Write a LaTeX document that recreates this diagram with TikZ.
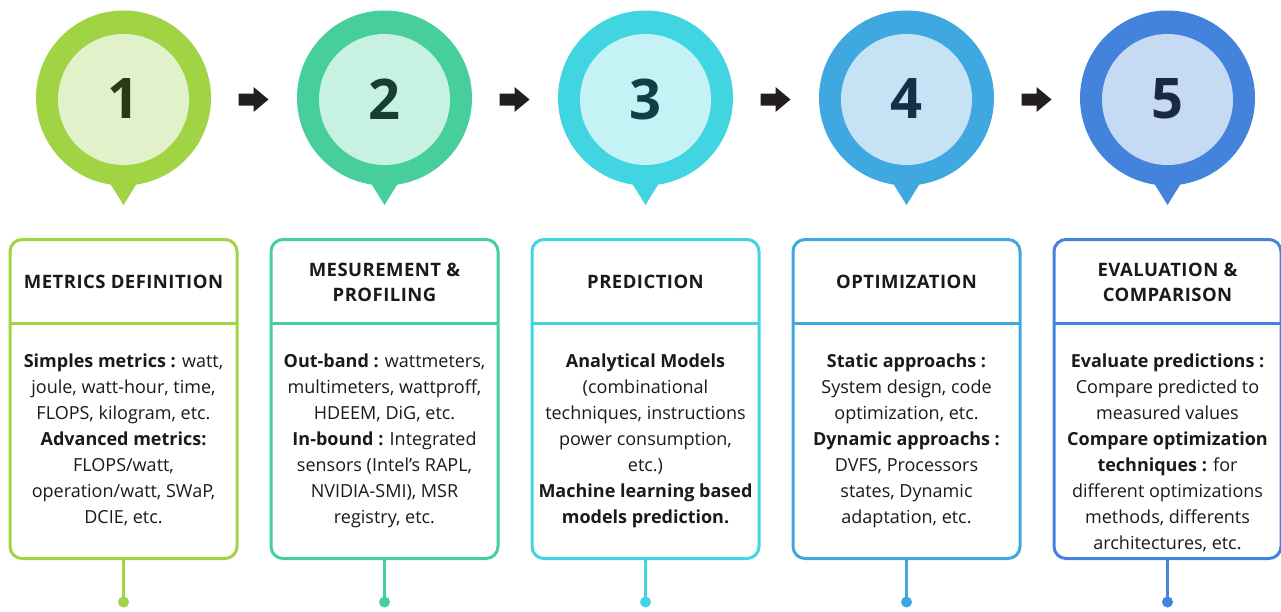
\documentclass[tikz,border=0pt]{standalone}
\usepackage{fontspec}
\setmainfont{Open Sans}
\newfontfamily\headfont[LetterSpace=2.5]{Open Sans}
\definecolor{c1o}{HTML}{A0D444}
\definecolor{c1i}{HTML}{E1F1C9}
\definecolor{c1n}{HTML}{2B3A12}
\definecolor{c2o}{HTML}{46CF9D}
\definecolor{c2i}{HTML}{C7F1E0}
\definecolor{c2n}{HTML}{163F2F}
\definecolor{c3o}{HTML}{41D5E2}
\definecolor{c3i}{HTML}{C5F2F5}
\definecolor{c3n}{HTML}{123F46}
\definecolor{c4o}{HTML}{40A8E0}
\definecolor{c4i}{HTML}{C6E3F6}
\definecolor{c4n}{HTML}{142F47}
\definecolor{c5o}{HTML}{4383DC}
\definecolor{c5i}{HTML}{C7DAF3}
\definecolor{c5n}{HTML}{172943}
\definecolor{txt}{HTML}{1A1A1A}
\definecolor{arr}{HTML}{231F20}
\tikzset{
  numstyle/.style={inner sep=0, font=\fontsize{56}{56}\selectfont\bfseries},
  cardbox/.style={rectangle, rounded corners=12pt, line width=3pt, outer sep=0pt, minimum width=227pt, minimum height=319pt, inner sep=0pt},
  headstyle/.style={align=center, inner sep=0, text=txt, font=\headfont\fontsize{18.5}{25}\selectfont\bfseries},
  bodystyle/.style={align=center, anchor=north, inner sep=0, text=txt, font=\fontsize{18}{26}\selectfont},
  dotstyle/.style={circle, inner sep=0, minimum size=11pt},
  stem/.style={line width=3pt},
  blockarrow/.style={fill=arr}
}
\newcommand\mypin[5]{%
  \fill[#3] (#2-18,176) -- (#2,205) -- (#2+18,176) -- cycle;
  \node[circle, fill=#3, minimum size=175pt, inner sep=0] (pin#1) at (#2,98) {};
  \node[circle, fill=#4, minimum size=131pt, inner sep=0] (in#1) at (#2,99.5) {};
  \node[numstyle, text=#5] (num#1) at (#2,99) {#1};
}
\newcommand\mycard[5]{%
  \node[cardbox, draw=#3] (card#1) at (#2,399) {};
  \draw[#3, line width=3pt] ([yshift=76pt]card#1.west) -- ([yshift=76pt]card#1.east);
  \node[headstyle] (head#1) at (#2,282) {#4};
  \node[bodystyle] (body#1) at (#2,349.5) {\strut #5};
  \node[dotstyle, fill=#3] (dot#1) at (#2,602) {};
  \draw[stem, #3] (card#1.south) -- (dot#1.center);
}
\newcommand\myarrow[2]{%
  \coordinate (arr#1) at (#2,99.5);
  \fill[blockarrow] ([xshift=-15pt,yshift=6pt]arr#1) -- ([yshift=6pt]arr#1) -- ([yshift=12.5pt]arr#1)
     -- ([xshift=15pt]arr#1) -- ([yshift=-12.5pt]arr#1) -- ([yshift=-6pt]arr#1)
     -- ([xshift=-15pt,yshift=-6pt]arr#1) -- cycle;
}
\begin{document}
\begin{tikzpicture}[x=1pt,y=-1pt]
\useasboundingbox (0,0) rectangle (1281,611);
\fill[white] (0,0) rectangle (1281,611);
\mypin{1}{123.5}{c1o}{c1i}{c1n}
\mypin{2}{384.5}{c2o}{c2i}{c2n}
\mypin{3}{645.5}{c3o}{c3i}{c3n}
\mypin{4}{906.5}{c4o}{c4i}{c4n}
\mypin{5}{1167.5}{c5o}{c5i}{c5n}
\myarrow{12}{253.5}
\myarrow{23}{514.5}
\myarrow{34}{775.5}
\myarrow{45}{1036.5}
\mycard{1}{123.5}{c1o}{METRICS DEFINITION}{\textbf{Simples metrics :} watt,\\ joule, watt-hour, time,\\ FLOPS, kilogram, etc.\\ \textbf{Advanced metrics:}\\ FLOPS/watt,\\ operation/watt, SWaP,\\ DCIE, etc.}
\mycard{2}{384.5}{c2o}{MESUREMENT \&\\ PROFILING}{\textbf{Out-band :} wattmeters,\\ multimeters, wattproff,\\ HDEEM, DiG, etc.\\ \textbf{In-bound :} Integrated\\ sensors (Intel's RAPL,\\ NVIDIA-SMI), MSR\\ registry, etc.}
\mycard{3}{645.5}{c3o}{PREDICTION}{\textbf{Analytical Models}\\ (combinational\\ techniques, instructions\\ power consumption,\\ etc.)\\ \textbf{Machine learning based}\\ \textbf{models prediction.}}
\mycard{4}{906.5}{c4o}{OPTIMIZATION}{\textbf{Static approachs :}\\ System design, code\\ optimization, etc.\\ \textbf{Dynamic approachs :}\\ DVFS, Processors\\ states, Dynamic\\ adaptation, etc.}
\mycard{5}{1167.5}{c5o}{EVALUATION \&\\ COMPARISON}{\textbf{Evaluate predictions :}\\ Compare predicted to\\ measured values\\ \textbf{Compare optimization}\\ \textbf{techniques :} for\\ different optimizations\\ methods, differents\\ architectures, etc.}
\end{tikzpicture}
\end{document}
